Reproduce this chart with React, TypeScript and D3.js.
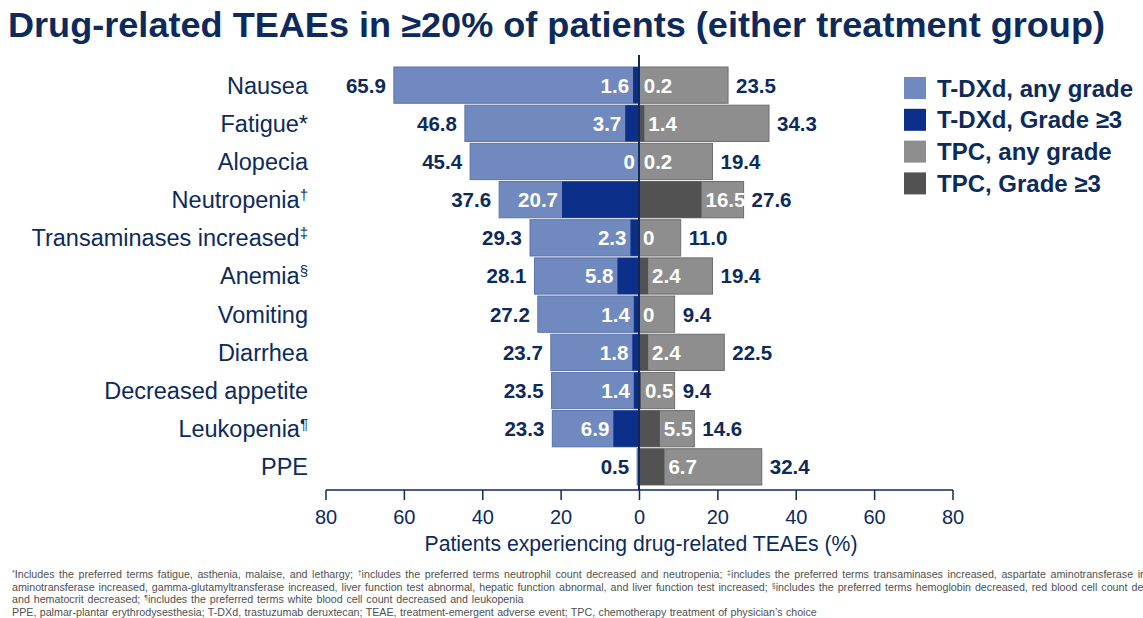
import React from "react";
import * as d3 from "d3";

const categories = ["Nausea", "Fatigue", "Alopecia", "Neutropenia", "Transaminases increased", "Anemia", "Vomiting", "Diarrhea", "Decreased appetite", "Leukopenia", "PPE"];
const marks = ["", "*", "", "†", "‡", "§", "", "", "", "¶", ""];
const tdxdAny = [65.9, 46.8, 45.4, 37.6, 29.3, 28.1, 27.2, 23.7, 23.5, 23.3, 0.5];
const tdxdG3: (number | null)[] = [1.6, 3.7, 0, 20.7, 2.3, 5.8, 1.4, 1.8, 1.4, 6.9, null];
const tpcAny = [23.5, 34.3, 19.4, 27.6, 11.0, 19.4, 9.4, 22.5, 9.4, 14.6, 32.4];
const tpcG3 = [0.2, 1.4, 0.2, 16.5, 0, 2.4, 0, 2.4, 0.5, 5.5, 6.7];
const ticks = [-80, -60, -40, -20, 0, 20, 40, 60, 80];
const legendItems = ["T-DXd, any grade", "T-DXd, Grade ≥3", "TPC, any grade", "TPC, Grade ≥3"];
const footnotes = [
  ["*", "Includes the preferred terms fatigue, asthenia, malaise, and lethargy; ", "†", "includes the preferred terms neutrophil count decreased and neutropenia; ", "‡", "includes the preferred terms transaminases increased, aspartate aminotransferase increased,"],
  ["", "aminotransferase increased, gamma-glutamyltransferase increased, liver function test abnormal, hepatic function abnormal, and liver function test increased; ", "§", "includes the preferred terms hemoglobin decreased, red blood cell count decreased,"],
  ["", "and hematocrit decreased; ", "¶", "includes the preferred terms white blood cell count decreased and leukopenia"],
  ["", "PPE, palmar-plantar erythrodysesthesia; T-DXd, trastuzumab deruxtecan; TEAE, treatment-emergent adverse event; TPC, chemotherapy treatment of physician’s choice"],
];
const footWordSpacing = [1.6, 1.0, 0.9, 0.4];

const NAVY = "#0D2A5C";
const C_TANY = "#7089BF";
const C_TG3 = "#0C2F8A";
const C_PANY = "#8E8E8E";
const C_PG3 = "#525252";
const colors = [C_TANY, C_TG3, C_PANY, C_PG3];
const FONT = "Arial, 'Liberation Sans', Helvetica, sans-serif";

const fmt = (v: number) => (v === 0 ? "0" : v.toFixed(1));

export default function App() {
  const W = 1143, H = 618;
  const xAxis = d3.scaleLinear().domain([-80, 80]).range([326, 953]);
  const xBar = d3.scaleLinear().domain([-80, 0, 80]).range([639 - 80 * 3.72, 639, 639 + 80 * 3.79]);
  const y = d3.scaleBand().domain(categories).range([67, 485]).paddingInner(0.05).paddingOuter(0);
  const bw = y.bandwidth();
  const x0 = xBar(0);

  return (
    <svg width={W} height={H} style={{ display: "block", position: "absolute", left: 0, top: 0 }} fontFamily={FONT}>
      <rect width={W} height={H} fill="#fff" />
      <text x={8} y={37} fontSize={35} fontWeight="bold" fill={NAVY} textLength={1097} lengthAdjust="spacingAndGlyphs">
        Drug-related TEAEs in ≥20% of patients (either treatment group)
      </text>

      {categories.map((c, i) => {
        const yt = y(c)!;
        const cy = yt + bw / 2;
        const la = xBar(-tdxdAny[i]);
        const g3 = tdxdG3[i];
        const rEnd = xBar(tpcAny[i]);
        const pg3 = xBar(tpcG3[i]);
        return (
          <g key={c}>
            <rect x={la} y={yt} width={x0 - la} height={bw} fill={C_TANY} stroke="#5B73A8" strokeWidth={1} />
            {g3 !== null && g3 > 0 && (
              <rect x={xBar(-g3)} y={yt} width={x0 - xBar(-g3)} height={bw} fill={C_TG3} />
            )}
            <rect x={x0} y={yt} width={rEnd - x0} height={bw} fill={C_PANY} stroke="#6E6E6E" strokeWidth={1} />
            {tpcG3[i] > 0 && <rect x={x0} y={yt} width={pg3 - x0} height={bw} fill={C_PG3} />}

            <text x={308} y={cy} dy="0.36em" textAnchor="end" fontSize={23.5} fill={NAVY}>
              {c}
              {marks[i] && (marks[i] === "*" ? <tspan>{marks[i]}</tspan> : <tspan fontSize={15} dy="-0.55em">{marks[i]}</tspan>)}
            </text>

            <text x={la - 8} y={cy} dy="0.36em" textAnchor="end" fontSize={20.5} fontWeight="bold" fill={NAVY}>{fmt(tdxdAny[i])}</text>
            <text x={rEnd + 8} y={cy} dy="0.36em" textAnchor="start" fontSize={20.5} fontWeight="bold" fill={NAVY}>{fmt(tpcAny[i])}</text>

            {g3 !== null && (
              <text x={xBar(-g3) - 4} y={cy} dy="0.36em" textAnchor="end" fontSize={20.5} fontWeight="bold" fill="#fff">{fmt(g3)}</text>
            )}
            <text x={pg3 + 4} y={cy} dy="0.36em" textAnchor="start" fontSize={20.5} fontWeight="bold" fill="#fff">{fmt(tpcG3[i])}</text>
          </g>
        );
      })}

      <line x1={x0} x2={x0} y1={55} y2={490} stroke={NAVY} strokeWidth={2} />

      <line x1={xAxis(-80)} x2={xAxis(80)} y1={490} y2={490} stroke={NAVY} strokeWidth={1.5} />
      {ticks.map((t) => (
        <g key={t}>
          <line x1={xAxis(t)} x2={xAxis(t)} y1={490} y2={500} stroke={NAVY} strokeWidth={1.5} />
          <text x={xAxis(t)} y={524} textAnchor="middle" fontSize={20} fill={NAVY}>{Math.abs(t)}</text>
        </g>
      ))}
      <text x={641} y={551} textAnchor="middle" fontSize={21.2} fill={NAVY}>Patients experiencing drug-related TEAEs (%)</text>

      {legendItems.map((l, i) => {
        const cy = 88 + i * 31.8;
        return (
          <g key={l}>
            <rect x={904} y={cy - 11} width={22} height={22} fill={colors[i]} />
            <text x={937} y={cy} dy="0.36em" fontSize={24} fontWeight="bold" fill={NAVY}>{l}</text>
          </g>
        );
      })}

      {footnotes.map((parts, li) => (
        <text key={li} x={12} y={578 + li * 12.7} fontSize={10.7} fill="#505050" wordSpacing={footWordSpacing[li]}>
          {parts.map((p, pi) =>
            pi % 2 === 0 ? (p ? <tspan key={pi} fontSize={7} dy="-3">{p}</tspan> : null) : <tspan key={pi} dy={parts[pi - 1] ? 3 : 0}>{p}</tspan>
          )}
        </text>
      ))}
    </svg>
  );
}
